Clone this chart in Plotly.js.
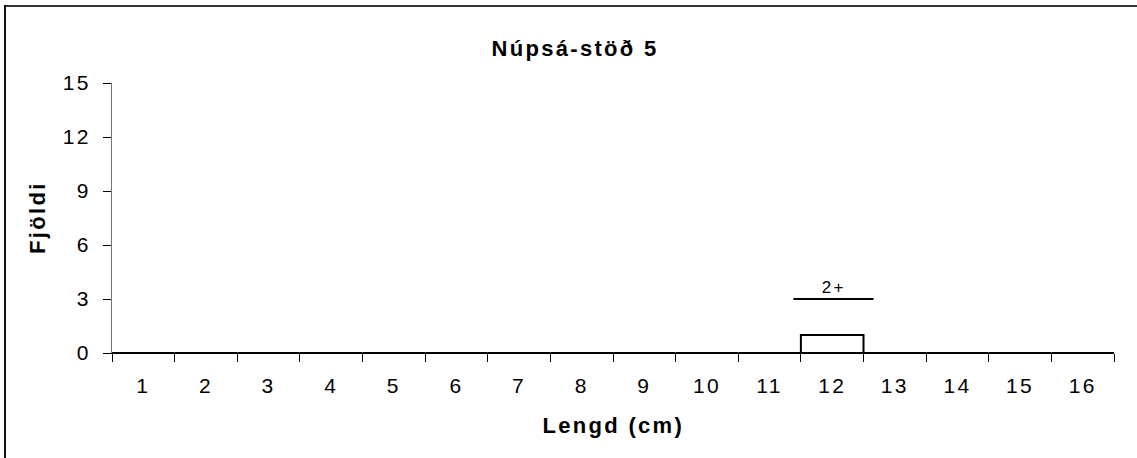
<!DOCTYPE html>
<html>
<head>
<meta charset="utf-8">
<script src="https://cdn.plot.ly/plotly-3.0.1.min.js"></script>
<style>
  html, body { margin: 0; padding: 0; background: #fff; }
  #wrap { position: relative; width: 1137px; height: 458px; overflow: hidden; }
  #chart { width: 1137px; height: 458px; }
  #chart text { letter-spacing: 2.3px; }
  #bt { position: absolute; left: 4px; top: 5px; width: 1140px; height: 2px; background: #333; }
  #bl { position: absolute; left: 4px; top: 5px; width: 2px; height: 460px; background: #111; }
</style>
</head>
<body>
<div id="wrap">
  <div id="chart"></div>
  <div id="bt"></div>
  <div id="bl"></div>
</div>
<script>
// Data
const lengths = ['1','2','3','4','5','6','7','8','9','10','11','12','13','14','15','16'];
const counts  = [0,0,0,0,0,0,0,0,0,0,0,1,0,0,0,0];
const yTicks  = [0,3,6,9,12,15];
// Age-group marker
const ageLabel = '2+';
const ageLineY = 3;
const ageLineX = [10.38, 11.66]; // category-index positions

const trace = {
  type: 'bar',
  x: lengths,
  y: counts,
  width: 1,
  marker: { color: '#ffffff', line: { color: '#000000', width: 2 } },
  hoverinfo: 'x+y'
};

const font = 'Arial, "Liberation Sans", sans-serif';

const layout = {
  width: 1137, height: 458,
  margin: { l: 112, r: 23, t: 83, b: 105 },
  paper_bgcolor: '#ffffff', plot_bgcolor: '#ffffff',
  showlegend: false,
  font: { family: font, size: 21, color: '#000' },
  title: {
    text: '<b>Núpsá-stöð 5</b>',
    font: { family: font, size: 22, color: '#000' },
    x: 575 / 1137, xref: 'container', xanchor: 'center',
    y: 1 - 48 / 458, yref: 'container', yanchor: 'middle'
  },
  xaxis: {
    type: 'category',
    range: [-0.5, 15.5],
    tickson: 'boundaries',
    ticks: 'outside', ticklen: 8, tickwidth: 1, tickcolor: '#000',
    ticklabelstandoff: 14,
    showline: true, linecolor: '#000', linewidth: 1,
    showgrid: false, zeroline: false,
    tickfont: { family: font, size: 21, color: '#000' }
  },
  yaxis: {
    range: [0, 15],
    tickvals: yTicks,
    ticktext: yTicks.map(String),
    ticks: 'outside', ticklen: 8, tickwidth: 1, tickcolor: '#000',
    ticklabelstandoff: 8,
    showline: true, linecolor: '#777', linewidth: 1,
    showgrid: false, zeroline: false,
    tickfont: { family: font, size: 21, color: '#000' }
  },
  shapes: [{
    type: 'line', xref: 'x', yref: 'y',
    x0: ageLineX[0], x1: ageLineX[1], y0: ageLineY, y1: ageLineY,
    line: { color: '#000', width: 2 }
  }],
  annotations: [
    {
      xref: 'x', yref: 'y',
      x: (ageLineX[0] + ageLineX[1]) / 2, y: ageLineY,
      text: ageLabel, showarrow: false,
      xanchor: 'center', yanchor: 'bottom', yshift: 0,
      font: { family: font, size: 17, color: '#000' }
    },
    {
      xref: 'paper', yref: 'paper',
      x: 0.5, y: (353 - 425) / 270,
      xanchor: 'center', yanchor: 'middle',
      text: '<b>Lengd (cm)</b>', showarrow: false,
      font: { family: font, size: 22, color: '#000' }
    },
    {
      xref: 'paper', yref: 'paper',
      x: (37 - 112) / 1002, y: 0.5,
      xanchor: 'center', yanchor: 'middle', textangle: -90,
      text: '<b>Fjöldi</b>', showarrow: false,
      font: { family: font, size: 22, color: '#000' }
    }
  ]
};

Plotly.newPlot('chart', [trace], layout, { displayModeBar: false, staticPlot: true });
</script>
</body>
</html>
